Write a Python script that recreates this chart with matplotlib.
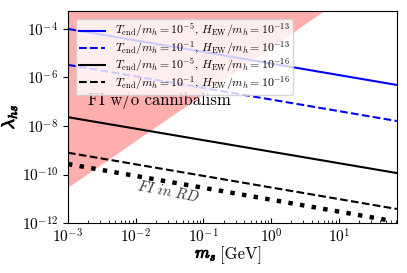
import matplotlib
matplotlib.use("Agg")
import matplotlib.pyplot as plt
import matplotlib.ticker as mticker
import matplotlib.patheffects as pe
import numpy as np

plt.rcParams['font.family'] = 'serif'
plt.rcParams['font.serif'] = ['cmr10', 'DejaVu Serif']
plt.rcParams['mathtext.fontset'] = 'cm'
plt.rcParams['axes.formatter.use_mathtext'] = True
plt.rcParams['axes.unicode_minus'] = True

# endpoints of the straight (log-log) lines
ms_ends = [1e-3, 72.0]
blue_solid = [1.0e-4, 4.9e-7]
blue_dashed = [3.3e-6, 1.6e-8]
black_solid = [2.3e-8, 1.15e-10]
black_dashed = [7.9e-10, 3.8e-12]
rd_ms = [1e-3, 54.0]
rd_lam = [2.7e-10, 1.3e-12]

# boundary of the "FI w/o cannibalism" region
region_ms = [1e-3, 6.0, 72.0]
region_lo = [3.0e-11, 5.5e-4, 6.0e-2]
region_hi = [1.0, 1.0, 1.0]

labels = [
    r'$T_{\rm end}/m_h=10^{-5}$, $H_{\rm EW}/m_h=10^{-13}$',
    r'$T_{\rm end}/m_h=10^{-1}$, $H_{\rm EW}/m_h=10^{-13}$',
    r'$T_{\rm end}/m_h=10^{-5}$, $H_{\rm EW}/m_h=10^{-16}$',
    r'$T_{\rm end}/m_h=10^{-1}$, $H_{\rm EW}/m_h=10^{-16}$',
]

fig = plt.figure(figsize=(4.07, 2.73), dpi=100)
ax = fig.add_axes([0.167, 0.183, 0.808, 0.777])

ax.fill_between(region_ms, region_lo, region_hi, color='red', alpha=0.32, lw=0)

ax.plot(ms_ends, blue_solid, color='blue', ls='-', lw=1.5, label=labels[0])
ax.plot(ms_ends, blue_dashed, color='blue', ls='--', lw=1.5, label=labels[1])
ax.plot(ms_ends, black_solid, color='black', ls='-', lw=1.5, label=labels[2])
ax.plot(ms_ends, black_dashed, color='black', ls='--', lw=1.5, label=labels[3])
ax.plot(rd_ms, rd_lam, color='black', ls=':', lw=3.2)

ax.set_xscale('log')
ax.set_yscale('log')
ax.set_xlim(1e-3, 72)
ax.set_ylim(1e-12, 5.5e-4)
ax.set_yticks([1e-12, 1e-10, 1e-8, 1e-6, 1e-4])
ax.yaxis.set_minor_locator(mticker.NullLocator())
ax.tick_params(axis='both', labelsize=11)
ax.tick_params(axis='x', which='both', direction='in')

ax.text(2.0e-3, 1.2e-7, 'FI w/o cannibalism', fontsize=12, va='center', ha='left')
ax.text(0.03, 1.9e-11, r'$\mathit{FI\ in\ RD}$', fontsize=10.5, rotation=-11,
        va='center', ha='center', color='#333333')

# bold-looking math labels (stroke thickens the CM italic glyphs)
bold = [pe.withStroke(linewidth=0.7, foreground='black')]
ax.text(0.452, -0.15, r'$m_s$', transform=ax.transAxes, fontsize=12,
        ha='right', va='center', path_effects=bold)
ax.text(0.462, -0.15, '[GeV]', transform=ax.transAxes, fontsize=12,
        ha='left', va='center')
ax.set_ylabel(r'$\lambda_{hs}$', fontsize=13, labelpad=2, path_effects=bold)

ax.legend(loc='upper left', fontsize=8.5, frameon=True, borderaxespad=0.65,
          handlelength=2.2, labelspacing=-0.08, borderpad=0.3)

plt.savefig('out.png', dpi=100)
